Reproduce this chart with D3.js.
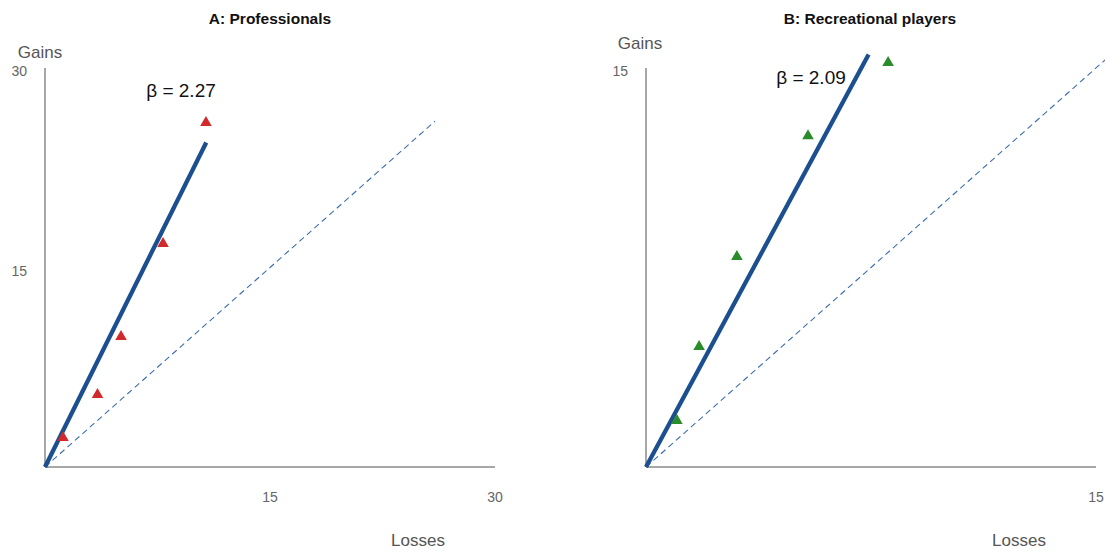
<!DOCTYPE html>
<html>
<head>
<meta charset="utf-8">
<script src="https://cdn.jsdelivr.net/npm/d3@7"></script>
<style>
  html, body { margin: 0; padding: 0; background: #fff; }
  svg { display: block; font-family: "Liberation Sans", Arial, sans-serif; }
</style>
</head>
<body>
<svg id="chart" width="1105" height="554"></svg>
<script>
// Panel A: professionals (losses vs. gains, with fitted slope)
const proTitle = "A: Professionals";
const proLosses = [1.2, 3.5, 5.07, 7.87, 10.73];
const proGains = [2.2, 5.44, 9.8, 16.79, 25.89];
const proBeta = 2.27;
const proFitEnd = 10.75;
const proDiagEnd = 26;
const proMax = 30;
const proTicks = [15, 30];

// Panel B: recreational players
const recTitle = "B: Recreational players";
const recLosses = [1.03, 1.77, 3.03, 5.4, 8.07];
const recGains = [1.74, 4.52, 7.91, 12.45, 15.2];
const recBeta = 2.09;
const recFitEnd = 7.42;
const recDiagEnd = 16;
const recMax = 15;
const recTicks = [15];

const svg = d3.select("#chart");

const panels = [
  { title: proTitle, losses: proLosses, gains: proGains, beta: proBeta,
    fitEnd: proFitEnd, diagEnd: proDiagEnd, max: proMax, ticks: proTicks,
    color: "#d12a2a",
    x0: 45, x1: 495, titleX: 270, gainsX: 40, gainsY: 52, betaX: 181, betaY: 97, lossesX: 418 },
  { title: recTitle, losses: recLosses, gains: recGains, beta: recBeta,
    fitEnd: recFitEnd, diagEnd: recDiagEnd, max: recMax, ticks: recTicks,
    color: "#2a8c2a",
    x0: 646, x1: 1096, titleX: 870, gainsX: 640, gainsY: 43, betaX: 811, betaY: 84, lossesX: 1019 }
];

const yBottom = 467, yTop = 68;

panels.forEach(p => {
  const g = svg.append("g");
  const x = d3.scaleLinear().domain([0, p.max]).range([p.x0, p.x1]);
  const y = d3.scaleLinear().domain([0, p.max]).range([yBottom, yTop]);

  // Title
  g.append("text")
    .attr("x", p.titleX).attr("y", 24)
    .attr("text-anchor", "middle")
    .attr("font-size", "15.5px").attr("font-weight", "bold")
    .attr("fill", "#111")
    .text(p.title);

  // Axis lines
  g.append("line")
    .attr("x1", x(0)).attr("x2", x(0))
    .attr("y1", y(p.max)).attr("y2", y(0))
    .attr("stroke", "#8a8a8a").attr("stroke-width", 1.5);
  g.append("line")
    .attr("x1", x(0)).attr("x2", x(p.max))
    .attr("y1", y(0)).attr("y2", y(0))
    .attr("stroke", "#8a8a8a").attr("stroke-width", 1.5);

  // Tick labels (no tick marks)
  g.selectAll(".ytick").data(p.ticks).join("text")
    .attr("x", x(0) - 18).attr("y", d => y(d) + 3.5)
    .attr("dy", "0.35em")
    .attr("text-anchor", "end")
    .attr("font-size", "14px").attr("fill", "#666")
    .text(d => d);
  g.selectAll(".xtick").data(p.ticks).join("text")
    .attr("x", d => x(d)).attr("y", 497)
    .attr("dy", "0.35em")
    .attr("text-anchor", "middle")
    .attr("font-size", "14px").attr("fill", "#666")
    .text(d => d);

  // Axis titles
  g.append("text")
    .attr("x", p.gainsX).attr("y", p.gainsY)
    .attr("dy", "0.35em")
    .attr("text-anchor", "middle")
    .attr("font-size", "17px").attr("fill", "#555")
    .text("Gains");
  g.append("text")
    .attr("x", p.lossesX).attr("y", 540)
    .attr("dy", "0.35em")
    .attr("text-anchor", "middle")
    .attr("font-size", "17px").attr("fill", "#555")
    .text("Losses");

  const line = d3.line().x(d => x(d[0])).y(d => y(d[1]));

  // 45-degree reference line (gains = losses)
  g.append("path")
    .datum([[0, 0], [p.diagEnd, p.diagEnd]])
    .attr("d", line)
    .attr("fill", "none")
    .attr("stroke", "#3b6db0").attr("stroke-width", 1.1)
    .attr("stroke-dasharray", "6,4");

  // Fitted line with slope beta
  g.append("path")
    .datum([[0, 0], [p.fitEnd, p.fitEnd * p.beta]])
    .attr("d", line)
    .attr("fill", "none")
    .attr("stroke", "#1b4f8f").attr("stroke-width", 4.3);

  // Observed points
  const tri = d3.symbol().type(d3.symbolTriangle).size(58);
  g.selectAll(".pt").data(p.losses.map((l, i) => [l, p.gains[i]])).join("path")
    .attr("d", tri)
    .attr("transform", d => `translate(${x(d[0])},${y(d[1])})`)
    .attr("fill", p.color);

  // Slope label
  g.append("text")
    .attr("x", p.betaX).attr("y", p.betaY)
    .attr("text-anchor", "middle")
    .attr("font-size", "19px").attr("fill", "#111")
    .text("β = " + p.beta.toFixed(2));
});
</script>
</body>
</html>
